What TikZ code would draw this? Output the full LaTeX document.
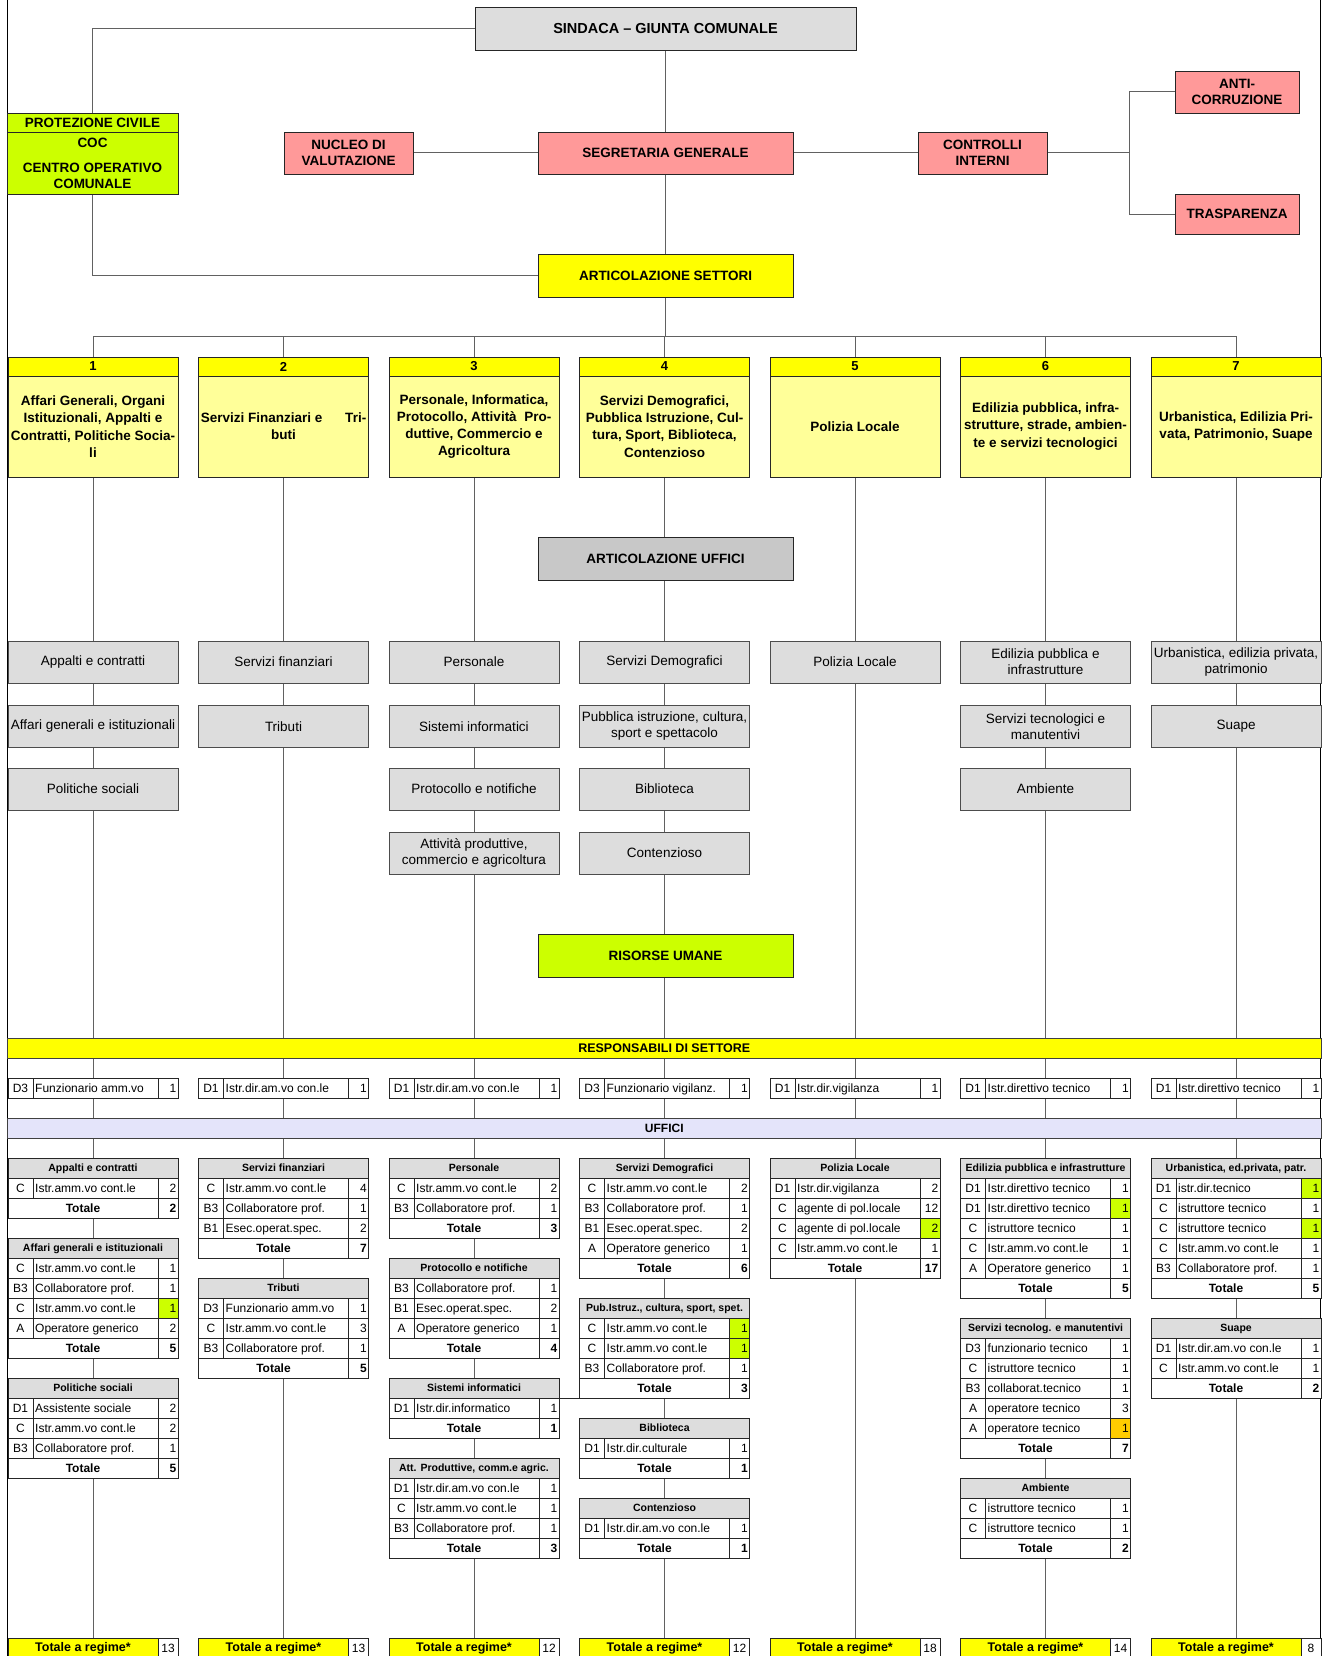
\documentclass[tikz,border=0pt]{standalone}
\usepackage{fontspec}
\setmainfont{Liberation Sans}
\usetikzlibrary{backgrounds}
\definecolor{pinkc}{HTML}{FF9999}
\definecolor{limec}{HTML}{CCFF00}
\definecolor{yelc}{HTML}{FFFF00}
\definecolor{lyelc}{HTML}{FFFF99}
\definecolor{grayc}{HTML}{DDDDDD}
\definecolor{dgrayc}{HTML}{C8C8C8}
\definecolor{lavc}{HTML}{E4E4FA}
\definecolor{orac}{HTML}{FFCC00}

\newcommand{\THead}[3]{%
  \pgfmathsetmacro\Lx{8+190.5*(#1-1)}%
  \pgfmathsetmacro\Ty{1158+20*(#2)}%
  \draw[tline, fill=grayc] (\Lx,\Ty) rectangle ++(170,20);%
  \node[thtext] (th#1k#2) at (\Lx+85,\Ty+10) {#3};}
\newcommand{\TRowAt}[7]{%
  \pgfmathsetmacro\Lx{8+190.5*(#1-1)}%
  \fill[white] (\Lx,#2) rectangle ++(170,20);%
  \fill[#7] (\Lx+150,#2) rectangle ++(20,20);%
  \draw[tline] (\Lx,#2) rectangle ++(170,20) (\Lx+25,#2) -- ++(0,20) (\Lx+150,#2) -- ++(0,20);%
  \node[ttext] (tc#3) at (\Lx+12.5,#2+10) {#4};%
  \node[ttext, anchor=west] (td#3) at (\Lx+27,#2+10) {#5};%
  \node[ttext, anchor=east] (tn#3) at (\Lx+168.5,#2+10) {#6};}
\newcommand{\TRow}[6]{\pgfmathsetmacro\Tyy{1158+20*(#2)}\TRowAt{#1}{\Tyy}{#1k#2}{#3}{#4}{#5}{#6}}
\newcommand{\TTot}[3]{%
  \pgfmathsetmacro\Lx{8+190.5*(#1-1)}%
  \pgfmathsetmacro\Ty{1158+20*(#2)}%
  \fill[white] (\Lx,\Ty) rectangle ++(170,20);%
  \draw[tline] (\Lx,\Ty) rectangle ++(170,20) (\Lx+150,\Ty) -- ++(0,20);%
  \node[ttextb] (tt#1k#2) at (\Lx+75,\Ty+10) {Totale};%
  \node[ttextb, anchor=east] (tv#1k#2) at (\Lx+168.5,\Ty+10) {#3};}

\begin{document}
\begin{tikzpicture}[x=1pt,y=-1pt,
  conn/.style={draw=black!62, line width=1pt},
  bx/.style={draw=black!85, line width=0.8pt, inner sep=1pt, align=center, font=\bfseries\fontsize{13.5}{16.5}\selectfont},
  pinkbox/.style={bx, fill=pinkc, minimum height=42},
  colnum/.style={bx, fill=yelc, minimum width=170, minimum height=19, font=\bfseries\fontsize{13}{15}\selectfont},
  colbody/.style={bx, fill=lyelc, minimum width=170, minimum height=101, inner sep=0pt, font=\bfseries\fontsize{13.5}{17.3}\selectfont},
  office/.style={draw=black!70, line width=0.8pt, fill=grayc, minimum width=170, minimum height=42, inner sep=0pt, align=center, font=\fontsize{13.5}{16}\selectfont},
  band/.style={draw=black!75, line width=0.8pt, minimum width=1313.5, minimum height=20, inner sep=0pt, font=\bfseries\fontsize{12.5}{14}\selectfont},
  tline/.style={draw=black!85, line width=0.7pt},
  ttext/.style={inner sep=0pt, text height=8.6pt, text depth=0pt, font=\fontsize{12}{14}\selectfont},
  ttextb/.style={ttext, font=\bfseries\fontsize{12}{14}\selectfont},
  thtext/.style={inner sep=0pt, text height=7.5pt, text depth=0pt, font=\bfseries\fontsize{10.5}{12}\selectfont},
  botbox/.style={draw=black!85, line width=0.8pt, fill=yelc, minimum width=150, minimum height=20, inner sep=0pt, font=\bfseries\fontsize{12.5}{14}\selectfont},
  botnum/.style={draw=black!85, line width=0.8pt, fill=white, minimum width=20, minimum height=20, inner sep=0pt, font=\fontsize{12}{14}\selectfont},
]
\useasboundingbox (0,0) rectangle (1324,1656);

% ---- top structure
\node[bx, fill=grayc, minimum width=381, minimum height=43, font=\bfseries\fontsize{14.5}{17}\selectfont] (sind) at (665.5,28.5) {SINDACA -- GIUNTA COMUNALE};
\node[bx, fill=limec, minimum width=171, minimum height=81] (prot) at (92.5,153.5) {};
\draw[draw=black!85, line width=0.8pt] (7,132) -- (178,132);
\node[bx, draw=none, inner sep=0pt] (prot1) at (92.5,122.5) {PROTEZIONE CIVILE};
\node[bx, draw=none, inner sep=0pt] (prot2) at (92.5,143) {COC};
\node[bx, draw=none, inner sep=0pt, font=\bfseries\fontsize{13.5}{16.5}\selectfont] (prot3) at (92.5,176) {CENTRO OPERATIVO\\COMUNALE};
\node[pinkbox, minimum width=129] (nuc) at (348.5,153) {NUCLEO DI\\VALUTAZIONE};
\node[pinkbox, minimum width=255] (seg) at (665.5,153) {SEGRETARIA GENERALE};
\node[pinkbox, minimum width=129] (ctrl) at (982.5,153) {CONTROLLI\\INTERNI};
\node[pinkbox, minimum width=124] (anti) at (1237,92) {ANTI-\\CORRUZIONE};
\node[pinkbox, minimum width=124, minimum height=40] (trasp) at (1237,214) {TRASPARENZA};
\node[bx, fill=yelc, minimum width=255, minimum height=43] (as) at (665.5,275.5) {ARTICOLAZIONE SETTORI};
\coordinate (cj) at (1129,153);

% ---- column headers
\foreach \i in {1,...,7}{
  \pgfmathsetmacro\cx{93+190.5*(\i-1)}
  \node[colnum] (n\i) at (\cx,366.5) {\i};
}
\node[colbody] (h1) at (93,426.5) {Affari Generali, Organi\\Istituzionali, Appalti e\\Contratti, Politiche Socia-\\li};
\node[colbody] (h2) at (283.5,426.5) {Servizi Finanziari e\hspace{1.7em}Tri-\\buti};
\node[colbody] (h3) at (474,426.5) {Personale, Informatica,\\Protocollo, Attività\ \ Pro-\\duttive, Commercio e\\Agricoltura};
\node[colbody] (h4) at (664.5,426.5) {Servizi Demografici,\\Pubblica Istruzione, Cul-\\tura, Sport, Biblioteca,\\Contenzioso};
\node[colbody] (h5) at (855,426.5) {Polizia Locale};
\node[colbody] (h6) at (1045.5,426.5) {Edilizia pubblica, infra-\\strutture, strade, ambien-\\te e servizi tecnologici};
\node[colbody] (h7) at (1236,426.5) {Urbanistica, Edilizia Pri-\\vata, Patrimonio, Suape};

% ---- offices
\node[bx, fill=dgrayc, minimum width=255, minimum height=43] (au) at (665.5,558.5) {ARTICOLAZIONE UFFICI};
\node[office] (o11) at (93,662) {Appalti e contratti};
\node[office] (o12) at (93,726.5) {Affari generali e istituzionali};
\node[office] (o13) at (93,789) {Politiche sociali};
\node[office] (o21) at (283.5,662) {Servizi finanziari};
\node[office] (o22) at (283.5,726.5) {Tributi};
\node[office] (o31) at (474,662) {Personale};
\node[office] (o32) at (474,726.5) {Sistemi informatici};
\node[office] (o33) at (474,789) {Protocollo e notifiche};
\node[office] (o34) at (474,853) {Attività produttive,\\commercio e agricoltura};
\node[office] (o41) at (664.5,662) {Servizi Demografici};
\node[office] (o42) at (664.5,726.5) {Pubblica istruzione, cultura,\\sport e spettacolo};
\node[office] (o43) at (664.5,789) {Biblioteca};
\node[office] (o44) at (664.5,853) {Contenzioso};
\node[office] (o51) at (855,662) {Polizia Locale};
\node[office] (o61) at (1045.5,662) {Edilizia pubblica e\\infrastrutture};
\node[office] (o62) at (1045.5,726.5) {Servizi tecnologici e\\manutentivi};
\node[office] (o63) at (1045.5,789) {Ambiente};
\node[office] (o71) at (1236,662) {Urbanistica, edilizia privata,\\patrimonio};
\node[office] (o72) at (1236,726.5) {Suape};
\node[bx, fill=limec, minimum width=255, minimum height=43] (ru) at (665.5,955.5) {RISORSE UMANE};

% ---- bands
\node[band, fill=yelc] (resp) at (664.25,1048) {RESPONSABILI DI SETTORE};
\node[band, fill=lavc, font=\bfseries\fontsize{12}{14}\selectfont] (uff) at (664.25,1128) {UFFICI};

% ---- responsabili rows
\TRowAt{1}{1078}{r1}{D3}{Funzionario amm.vo}{1}{white}
\TRowAt{2}{1078}{r2}{D1}{Istr.dir.am.vo con.le}{1}{white}
\TRowAt{3}{1078}{r3}{D1}{Istr.dir.am.vo con.le}{1}{white}
\TRowAt{4}{1078}{r4}{D3}{Funzionario vigilanz.}{1}{white}
\TRowAt{5}{1078}{r5}{D1}{Istr.dir.vigilanza}{1}{white}
\TRowAt{6}{1078}{r6}{D1}{Istr.direttivo tecnico}{1}{white}
\TRowAt{7}{1078}{r7}{D1}{Istr.direttivo tecnico}{1}{white}

% ---- column 1 tables
\THead{1}{0}{Appalti e contratti}
\TRow{1}{1}{C}{Istr.amm.vo cont.le}{2}{white}
\TTot{1}{2}{2}
\THead{1}{4}{Affari generali e istituzionali}
\TRow{1}{5}{C}{Istr.amm.vo cont.le}{1}{white}
\TRow{1}{6}{B3}{Collaboratore prof.}{1}{white}
\TRow{1}{7}{C}{Istr.amm.vo cont.le}{1}{limec}
\TRow{1}{8}{A}{Operatore generico}{2}{white}
\TTot{1}{9}{5}
\THead{1}{11}{Politiche sociali}
\TRow{1}{12}{D1}{Assistente sociale}{2}{white}
\TRow{1}{13}{C}{Istr.amm.vo cont.le}{2}{white}
\TRow{1}{14}{B3}{Collaboratore prof.}{1}{white}
\TTot{1}{15}{5}
% ---- column 2
\THead{2}{0}{Servizi finanziari}
\TRow{2}{1}{C}{Istr.amm.vo cont.le}{4}{white}
\TRow{2}{2}{B3}{Collaboratore prof.}{1}{white}
\TRow{2}{3}{B1}{Esec.operat.spec.}{2}{white}
\TTot{2}{4}{7}
\THead{2}{6}{Tributi}
\TRow{2}{7}{D3}{Funzionario amm.vo}{1}{white}
\TRow{2}{8}{C}{Istr.amm.vo cont.le}{3}{white}
\TRow{2}{9}{B3}{Collaboratore prof.}{1}{white}
\TTot{2}{10}{5}
% ---- column 3
\THead{3}{0}{Personale}
\TRow{3}{1}{C}{Istr.amm.vo cont.le}{2}{white}
\TRow{3}{2}{B3}{Collaboratore prof.}{1}{white}
\TTot{3}{3}{3}
\THead{3}{5}{Protocollo e notifiche}
\TRow{3}{6}{B3}{Collaboratore prof.}{1}{white}
\TRow{3}{7}{B1}{Esec.operat.spec.}{2}{white}
\TRow{3}{8}{A}{Operatore generico}{1}{white}
\TTot{3}{9}{4}
\THead{3}{11}{Sistemi informatici}
\TRow{3}{12}{D1}{Istr.dir.informatico}{1}{white}
\TTot{3}{13}{1}
\THead{3}{15}{Att. Produttive, comm.e agric.}
\TRow{3}{16}{D1}{Istr.dir.am.vo con.le}{1}{white}
\TRow{3}{17}{C}{Istr.amm.vo cont.le}{1}{white}
\TRow{3}{18}{B3}{Collaboratore prof.}{1}{white}
\TTot{3}{19}{3}
\draw[tline] (559,1398) -- (579.5,1398);
% ---- column 4
\THead{4}{0}{Servizi Demografici}
\TRow{4}{1}{C}{Istr.amm.vo cont.le}{2}{white}
\TRow{4}{2}{B3}{Collaboratore prof.}{1}{white}
\TRow{4}{3}{B1}{Esec.operat.spec.}{2}{white}
\TRow{4}{4}{A}{Operatore generico}{1}{white}
\TTot{4}{5}{6}
\THead{4}{7}{Pub.Istruz., cultura, sport, spet.}
\TRow{4}{8}{C}{Istr.amm.vo cont.le}{1}{limec}
\TRow{4}{9}{C}{Istr.amm.vo cont.le}{1}{limec}
\TRow{4}{10}{B3}{Collaboratore prof.}{1}{white}
\TTot{4}{11}{3}
\THead{4}{13}{Biblioteca}
\TRow{4}{14}{D1}{Istr.dir.culturale}{1}{white}
\TTot{4}{15}{1}
\THead{4}{17}{Contenzioso}
\TRow{4}{18}{D1}{Istr.dir.am.vo con.le}{1}{white}
\TTot{4}{19}{1}
% ---- column 5
\THead{5}{0}{Polizia Locale}
\TRow{5}{1}{D1}{Istr.dir.vigilanza}{2}{white}
\TRow{5}{2}{C}{agente di pol.locale}{12}{white}
\TRow{5}{3}{C}{agente di pol.locale}{2}{limec}
\TRow{5}{4}{C}{Istr.amm.vo cont.le}{1}{white}
\TTot{5}{5}{17}
% ---- column 6
\THead{6}{0}{Edilizia pubblica e infrastrutture}
\TRow{6}{1}{D1}{Istr.direttivo tecnico}{1}{white}
\TRow{6}{2}{D1}{Istr.direttivo tecnico}{1}{limec}
\TRow{6}{3}{C}{istruttore tecnico}{1}{white}
\TRow{6}{4}{C}{Istr.amm.vo cont.le}{1}{white}
\TRow{6}{5}{A}{Operatore generico}{1}{white}
\TTot{6}{6}{5}
\THead{6}{8}{Servizi tecnolog. e manutentivi}
\TRow{6}{9}{D3}{funzionario tecnico}{1}{white}
\TRow{6}{10}{C}{istruttore tecnico}{1}{white}
\TRow{6}{11}{B3}{collaborat.tecnico}{1}{white}
\TRow{6}{12}{A}{operatore tecnico}{3}{white}
\TRow{6}{13}{A}{operatore tecnico}{1}{orac}
\TTot{6}{14}{7}
\THead{6}{16}{Ambiente}
\TRow{6}{17}{C}{istruttore tecnico}{1}{white}
\TRow{6}{18}{C}{istruttore tecnico}{1}{white}
\TTot{6}{19}{2}
% ---- column 7
\THead{7}{0}{Urbanistica, ed.privata, patr.}
\TRow{7}{1}{D1}{istr.dir.tecnico}{1}{limec}
\TRow{7}{2}{C}{istruttore tecnico}{1}{white}
\TRow{7}{3}{C}{istruttore tecnico}{1}{limec}
\TRow{7}{4}{C}{Istr.amm.vo cont.le}{1}{white}
\TRow{7}{5}{B3}{Collaboratore prof.}{1}{white}
\TTot{7}{6}{5}
\THead{7}{8}{Suape}
\TRow{7}{9}{D1}{Istr.dir.am.vo con.le}{1}{white}
\TRow{7}{10}{C}{Istr.amm.vo cont.le}{1}{white}
\TTot{7}{11}{2}

% ---- bottom totals
\foreach \i/\v in {1/13,2/13,3/12,4/12,5/18,6/14,7/8}{
  \pgfmathsetmacro\Lx{8+190.5*(\i-1)}
  \node[botbox] (bt\i) at (\Lx+75,1648) {Totale a regime*};
  \node[botnum] (bn\i) at (\Lx+160,1648) {\v};
}

% ---- connectors
\begin{scope}[on background layer]
  \fill[white] (0,0) rectangle (1324,1656);
  \draw[black, line width=1.2pt] (7.5,0) -- (7.5,1656);
  \draw[black, line width=1.2pt] (1320.5,0) -- (1320.5,1656);
  \draw[conn] (sind.south) -- (seg.north);
  \draw[conn] (seg.south) -- (as.north);
  \draw[conn] (sind.west) -| (prot.north);
  \draw[conn] (prot.south) |- (as.west);
  \draw[conn] (nuc.east) -- (seg.west);
  \draw[conn] (seg.east) -- (ctrl.west);
  \draw[conn] (ctrl.east) -- (cj);
  \draw[conn] (anti.west) -| (cj);
  \draw[conn] (trasp.west) -| (cj);
  \draw[conn] (as.south) -- (as.south |- 0,336);
  \draw[conn] (n1.north) -- (n1.north |- 0,336) -| (n7.north);
  \foreach \i in {2,...,6}{ \draw[conn] (n\i.north) -- (n\i.north |- 0,336); }
  \foreach \i in {1,...,7}{ \draw[conn] (h\i.south) -- (h\i.south |- bt\i.north); }
\end{scope}
\end{tikzpicture}
\end{document}
